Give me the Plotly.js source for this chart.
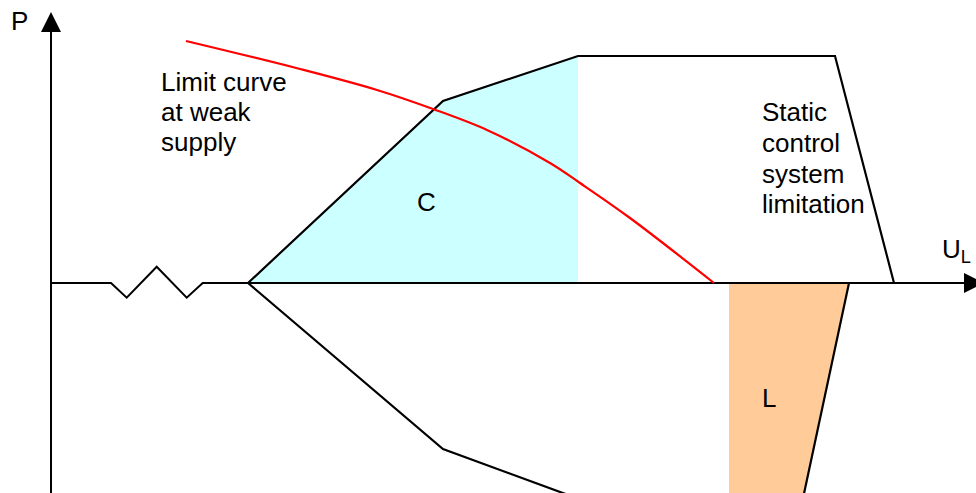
<!DOCTYPE html>
<html>
<head>
<meta charset="utf-8">
<script src="https://cdn.plot.ly/plotly-3.0.1.min.js"></script>
<style>
  html, body { margin: 0; padding: 0; background: #fff; }
  #plot { width: 976px; height: 493px; }
</style>
</head>
<body>
<div id="plot"></div>
<script>
// diagram units: U along the horizontal axis, P along the vertical axis (origin at the axes crossing)

// horizontal axis with the break zigzag
var axisU = [0, 6.0, 7.57, 10.57, 13.57, 15.17, 91.3];
var axisP = [0, 0, -1.47, 1.63, -1.47, 0, 0];
// vertical axis
var pAxisU = [0, 0];
var pAxisP = [-22, 25.1];
// arrow heads
var arrowPU = [-1.0, 1.0, 0.0, -1.0];
var arrowPP = [25.1, 25.1, 27.1, 25.1];
var arrowUU = [91.3, 91.3, 93.3, 91.3];
var arrowUP = [-1.0, 1.0, 0.0, -1.0];

// capacitive operating limit (upper)
var capU = [19.7, 39.2, 52.7, 78.4, 84.3];
var capP = [0, 18.2, 22.7, 22.7, 0];
// shaded capacitive region C
var regionCU = [19.7, 39.2, 52.7, 52.7, 19.7];
var regionCP = [0, 18.2, 22.7, 0, 0];

// inductive limit (lower)
var indU = [19.7, 39.2, 55.0];
var indP = [0, -16.6, -22.4];
// static control system limit, lower part
var indLimU = [79.8, 75.1];
var indLimP = [0, -22.0];
// shaded inductive region L
var regionLU = [67.8, 79.8, 75.1, 67.8, 67.8];
var regionLP = [0, 0, -22.0, -22.0, 0];

// limit curve at weak supply
var curveU = [13.5, 24.9, 32.6, 38.2, 43.6, 49.9, 52.9, 57.9, 66.3];
var curveP = [24.2, 21.4, 19.3, 17.4, 15.3, 12.0, 10.0, 6.5, 0];

// text labels
var leftLines = ["Limit curve", "at weak", "supply"];
var leftU = 10.8;
var leftP = [20.1, 17.1, 14.1];
var rightLines = ["Static", "control", "system", "limitation"];
var rightU = 70.9;
var rightP = [17.1, 14.0, 10.9, 7.9];

var font = {family: "Liberation Sans, Arial, sans-serif", size: 26, color: "#000"};

function line(u, p, color, width, shape) {
  return {x: u, y: p, mode: "lines", type: "scatter", hoverinfo: "skip",
          line: {color: color, width: width, shape: shape || "linear"}};
}
function area(u, p, color) {
  return {x: u, y: p, mode: "lines", type: "scatter", fill: "toself", fillcolor: color,
          hoverinfo: "skip", line: {width: 0, color: color}};
}

var data = [
  area(regionCU, regionCP, "#ccffff"),
  area(regionLU, regionLP, "#ffcc99"),
  line(axisU, axisP, "#000", 2),
  line(pAxisU, pAxisP, "#000", 2),
  area(arrowPU, arrowPP, "#000"),
  area(arrowUU, arrowUP, "#000"),
  line(capU, capP, "#000", 2.2),
  line(indU, indP, "#000", 2.2),
  line(indLimU, indLimP, "#000", 2.2),
  line(curveU, curveP, "#ff0000", 2.2, "spline")
];

var annotations = [];
function addText(txt, u, p, anchor) {
  annotations.push({x: u, y: p, text: txt, showarrow: false, xanchor: anchor || "left",
                    yanchor: "middle", font: font, align: "left"});
}
for (var i = 0; i < leftLines.length; i++) addText(leftLines[i], leftU, leftP[i]);
for (var i = 0; i < rightLines.length; i++) addText(rightLines[i], rightU, rightP[i]);
addText("C", 37.5, 8.1, "center");
addText("L", 71.8, -11.5, "center");
addText("P", -3.15, 26.2, "center");
addText("U<sub>L</sub>", 88.9, 3.3, "left");

var layout = {
  width: 976,
  height: 493,
  margin: {l: 0, r: 0, t: 0, b: 0},
  showlegend: false,
  paper_bgcolor: "#fff",
  plot_bgcolor: "#fff",
  xaxis: {range: [-5.1, 92.5], visible: false, fixedrange: true},
  yaxis: {range: [-21.0, 28.3], visible: false, fixedrange: true},
  annotations: annotations
};

Plotly.newPlot("plot", data, layout, {staticPlot: true, displayModeBar: false});
</script>
</body>
</html>
